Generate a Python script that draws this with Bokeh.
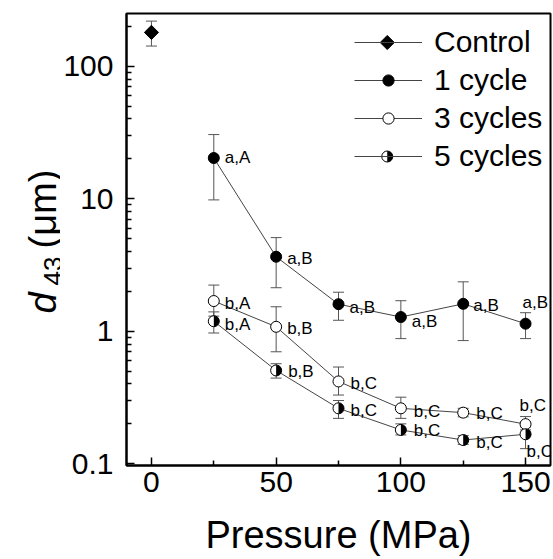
import math
import numpy as np
from bokeh.plotting import figure
from bokeh.layouts import row
from bokeh.models import (ColumnDataSource, Whisker, TeeHead, FixedTicker, NumeralTickFormatter,
                          Legend, LegendItem, Label, Range1d)
from bokeh.core.properties import value
from bokeh.embed import file_html
from bokeh.resources import INLINE

# ---------------- data ----------------
pressure = [25, 50, 75, 100, 125, 150]

control_x = [0]
control_y = [180]
control_lo = [142]
control_hi = [219]

one_y = [20.3, 3.65, 1.60, 1.28, 1.61, 1.14]
one_lo = [9.8, 2.13, 1.21, 0.88, 0.85, 0.88]
one_hi = [30.5, 5.09, 1.97, 1.70, 2.36, 1.38]
one_lab = ["a,A", "a,B", "a,B", "a,B", "a,B", "a,B"]

three_y = [1.69, 1.08, 0.418, 0.262, 0.243, 0.199]
three_lo = [1.30, 0.70, 0.33, 0.22, 0.226, 0.18]
three_hi = [2.23, 1.53, 0.537, 0.318, 0.262, 0.227]
three_lab = ["b,A", "b,B", "b,C", "b,C", "b,C", "b,C"]

five_y = [1.19, 0.506, 0.262, 0.180, 0.151, 0.167]
five_lo = [0.97, 0.443, 0.22, 0.165, 0.14, 0.13]
five_hi = [1.40, 0.569, 0.30, 0.20, 0.163, 0.19]
five_lab = ["b,A", "b,B", "b,C", "b,C", "b,C", "b,C"]

series_names = ["Control", "1 cycle", "3 cycles", "5 cycles"]
x_ticks = [0, 50, 100, 150]
y_ticks = [0.1, 1, 10, 100]
x_label = "Pressure (MPa)"

# label offsets (screen px) - layout only
one_dx = [11, 11, 11, 11, 10, -3]
one_dy = [0, 2, 3, 4, 2, -21]
three_dx = [11, 11, 12, 13, 13, -6]
three_dy = [2, 2, 2, 3, 1, -19]
five_dx = [11, 12, 12, 13, 13, 1]
five_dy = [3, 1, 2, 1, 2, 17]

# ---------------- layout ----------------
PAGE_W, PAGE_H = 553, 559
LW = 60                      # narrow left figure holding the y-axis title
W, H = PAGE_W - LW, PAGE_H
BL, BR, BT, BB = 124 - LW, 3, 13, 94
X0, X1 = -10, 160
Y0, Y1 = 0.097, 250
FONT = "Liberation Sans"
LINE_C = "#444444"
ERR_C = "#555555"

p = figure(width=W, height=H, x_range=Range1d(X0, X1), y_range=Range1d(Y0, Y1),
           y_axis_type="log", output_backend="svg", toolbar_location=None,
           min_border_left=BL, min_border_right=BR, min_border_top=BT, min_border_bottom=BB)
p.grid.visible = False
p.outline_line_color = "black"
p.outline_line_width = 2
p.outline_line_alpha = 1

for ax in (p.xaxis[0], p.yaxis[0]):
    ax.axis_line_width = 2
    ax.axis_line_color = "black"
    ax.major_tick_in = 8
    ax.major_tick_out = 0
    ax.minor_tick_in = 5
    ax.minor_tick_out = 0
    ax.major_tick_line_width = 1.5
    ax.minor_tick_line_width = 1.5
    ax.major_tick_line_color = "black"
    ax.minor_tick_line_color = "black"
    ax.major_label_text_font = FONT
    ax.major_label_text_font_size = "30px"
    ax.major_label_text_color = "black"

p.xaxis.ticker = FixedTicker(ticks=x_ticks,
                             minor_ticks=[(a + b) / 2 for a, b in zip(x_ticks, x_ticks[1:])])
p.xaxis.major_label_standoff = 6
p.xaxis.axis_label = x_label
p.xaxis.axis_label_text_font = FONT
p.xaxis.axis_label_text_font_size = "38px"
p.xaxis.axis_label_text_font_style = "normal"
p.xaxis.axis_label_text_color = "black"
p.xaxis.axis_label_standoff = 19

y_minor = [k * 10.0 ** e for e in range(-1, 3) for k in range(2, 10) if Y0 <= k * 10.0 ** e <= Y1]
p.yaxis.ticker = FixedTicker(ticks=y_ticks, minor_ticks=y_minor)
p.yaxis.formatter = NumeralTickFormatter(format="0.[0]")
p.yaxis.major_label_standoff = 13

# page pixel -> data helpers (legend swatches only)
FL, FR, FT, FB = LW + BL, LW + W - BR, BT, H - BB
def px2x(px):
    return X0 + (px - FL) / (FR - FL) * (X1 - X0)
def py2y(py):
    l0, l1 = math.log10(Y0), math.log10(Y1)
    return 10 ** (l1 - (py - FT) / (FB - FT) * (l1 - l0))

# ---------------- sources ----------------
src_c = ColumnDataSource(dict(x=control_x, y=control_y, lo=control_lo, hi=control_hi))
src_1 = ColumnDataSource(dict(x=pressure, y=one_y, lo=one_lo, hi=one_hi, lab=one_lab, dx=one_dx, dy=one_dy))
src_3 = ColumnDataSource(dict(x=pressure, y=three_y, lo=three_lo, hi=three_hi, lab=three_lab, dx=three_dx, dy=three_dy))
src_5 = ColumnDataSource(dict(x=pressure, y=five_y, lo=five_lo, hi=five_hi, lab=five_lab, dx=five_dx, dy=five_dy))

for src in (src_c, src_1, src_3, src_5):
    p.add_layout(Whisker(source=src, base="x", upper="hi", lower="lo", dimension="height",
                         line_color=ERR_C, line_width=1,
                         upper_head=TeeHead(size=11, line_color=ERR_C, line_width=1),
                         lower_head=TeeHead(size=11, line_color=ERR_C, line_width=1)))

l_c = p.line("x", "y", source=src_c, line_color=LINE_C, line_width=1)
l_1 = p.line("x", "y", source=src_1, line_color=LINE_C, line_width=1)
l_3 = p.line("x", "y", source=src_3, line_color=LINE_C, line_width=1)
l_5 = p.line("x", "y", source=src_5, line_color=LINE_C, line_width=1)

m_c = p.scatter("x", "y", source=src_c, marker="square", angle=math.pi / 4, size=10,
                fill_color="black", line_color="black")
m_1 = p.scatter("x", "y", source=src_1, marker="circle", size=11,
                fill_color="black", line_color="black")
m_3 = p.scatter("x", "y", source=src_3, marker="circle", size=11,
                fill_color="white", line_color="black", line_width=1)
m_5 = p.scatter("x", "y", source=src_5, marker="circle", size=11,
                fill_color="white", line_color="black", line_width=1)
p.wedge("x", "y", source=src_5, radius=5.5, radius_units="screen",
        start_angle=-math.pi / 2, end_angle=math.pi / 2,
        fill_color="black", line_color=None)

for src in (src_1, src_3, src_5):
    p.text("x", "y", text="lab", source=src, x_offset="dx", y_offset="dy",
           text_font=value(FONT), text_font_size=value("17px"), text_color="black",
           text_align="left", text_baseline="middle")

# ---------------- legend ----------------
LEG_X, LEG_Y = 228, 292
GW, GH, RH, SP = 68, 28, 34, 4
NLEG = len(series_names)
legend = Legend(items=[
    LegendItem(label=series_names[0], renderers=[l_c]),
    LegendItem(label=series_names[1], renderers=[l_1, m_1]),
    LegendItem(label=series_names[2], renderers=[l_3, m_3]),
    LegendItem(label=series_names[3], renderers=[l_5]),
], location=(LEG_X, LEG_Y), padding=0, margin=0, spacing=SP,
   glyph_width=GW, glyph_height=GH, label_height=RH, label_standoff=12,
   label_text_font=FONT, label_text_font_size="30px", label_text_color="black",
   border_line_color=None, background_fill_alpha=0)
p.add_layout(legend)

# legend swatch centres (diamond and half-filled circle are drawn as glyphs above the legend)
leg_h = NLEG * RH + (NLEG - 1) * SP
leg_top = FT + (FB - FT) - LEG_Y - leg_h
sw_x = px2x(FL + LEG_X + GW / 2)
def sw_y(i):
    return py2y(leg_top + i * (RH + SP) + RH / 2)
p.scatter([sw_x], [sw_y(0)], marker="square", angle=math.pi / 4, size=10,
          fill_color="black", line_color="black", level="overlay")
p.scatter([sw_x], [sw_y(3)], marker="circle", size=11,
          fill_color="white", line_color="black", line_width=1, level="overlay")
p.wedge([sw_x], [sw_y(3)], radius=5.5, radius_units="screen",
        start_angle=-math.pi / 2, end_angle=math.pi / 2,
        fill_color="black", line_color=None, level="overlay")

# ---------------- y axis title: d43 (μm) in a narrow side figure ----------------
# the side figure's frame is aligned with the main frame (page y FT..FB), so data y = H - page y
q = figure(width=LW, height=H, x_range=Range1d(0, LW), y_range=Range1d(H - FB, H - FT),
           output_backend="svg", toolbar_location=None,
           x_axis_location=None, y_axis_location=None,
           min_border_left=0, min_border_right=0, min_border_top=BT, min_border_bottom=BB)
q.grid.visible = False
q.outline_line_color = None
lab_kw = dict(angle=math.pi / 2, text_font=FONT, text_color="black",
              text_align="left", text_baseline="alphabetic")
q.add_layout(Label(x=42, y=H - 313, text="d", text_font_size="38px",
                   text_font_style="italic", **lab_kw))
q.add_layout(Label(x=52, y=H - 285, text="43", text_font_size="26px", **lab_kw))
q.add_layout(Label(x=42, y=H - 248, text="(μm)", text_font_size="38px", **lab_kw))

layout = row(q, p, spacing=0)
open("out.html", "w").write(file_html(layout, INLINE))
